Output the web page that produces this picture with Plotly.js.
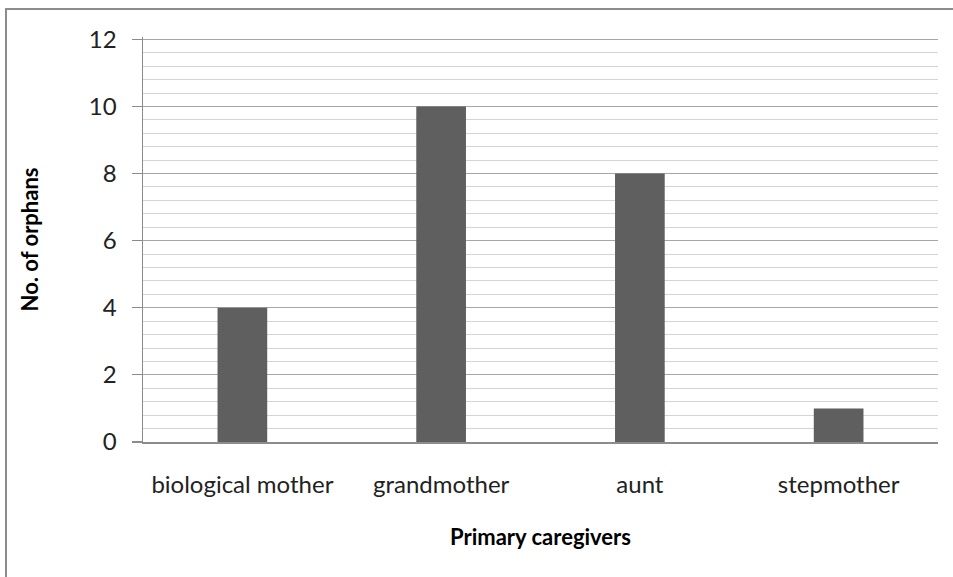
<!DOCTYPE html>
<html>
<head>
<meta charset="utf-8">
<script src="https://cdn.plot.ly/plotly-3.0.1.min.js"></script>
<style>
  html, body { margin: 0; padding: 0; background: #fff; }
  #wrap { position: relative; width: 953px; height: 577px; overflow: hidden; }
  #frame { position: absolute; left: 5px; top: 8px; width: 1000px; height: 1000px;
           border-left: 2px solid #8c8c8c; border-top: 2px solid #8c8c8c; box-sizing: border-box; }
  #chart { position: absolute; left: 0; top: 0; width: 953px; height: 577px; }
</style>
</head>
<body>
<div id="wrap">
  <div id="frame"></div>
  <div id="chart"></div>
</div>
<script>
const categories = ["biological mother", "grandmother", "aunt", "stepmother"];
const orphans = [4, 10, 8, 1];
const yTickValues = [0, 2, 4, 6, 8, 10, 12];

const font = "Lato, 'Open Sans', sans-serif";
const fs = 24;

const trace = {
  type: "bar",
  x: categories,
  y: orphans,
  marker: { color: "#5f5f5f" },
  hoverinfo: "x+y"
};

const layout = {
  width: 953,
  height: 577,
  margin: { l: 143, r: 15, t: 37, b: 135 },
  paper_bgcolor: "rgba(0,0,0,0)",
  plot_bgcolor: "#fff",
  bargap: 0.75,
  showlegend: false,
  font: { family: font, color: "#222", size: fs },
  xaxis: {
    type: "category",
    showgrid: false,
    showline: true,
    linecolor: "#8c8c8c",
    linewidth: 1.5,
    ticks: "",
    tickfont: { family: font, size: fs, color: "#222" },
    ticklabelstandoff: 21,
    title: { text: "<b>Primary caregivers</b>", font: { family: font, size: fs - 2, color: "#000" }, standoff: 32 }
  },
  yaxis: {
    range: [0, 12.07],
    tickvals: yTickValues,
    ticktext: yTickValues.map(String),
    showgrid: true,
    gridcolor: "#a6a6a6",
    gridwidth: 1.2,
    showline: true,
    linecolor: "#8c8c8c",
    linewidth: 1.5,
    ticks: "outside",
    ticklen: 10,
    tickcolor: "#8c8c8c",
    tickwidth: 1.2,
    ticklabelstandoff: 10,
    tickfont: { family: font, size: fs, color: "#222" },
    zeroline: false,
    minor: { dtick: 0.4, showgrid: true, gridcolor: "#d4d4d4", gridwidth: 1, ticks: "" },
    title: { text: "<b>No. of orphans</b>", font: { family: font, size: fs - 2, color: "#000" }, standoff: 44 }
  }
};

Plotly.newPlot("chart", [trace], layout, { displayModeBar: false, staticPlot: true });
</script>
</body>
</html>
